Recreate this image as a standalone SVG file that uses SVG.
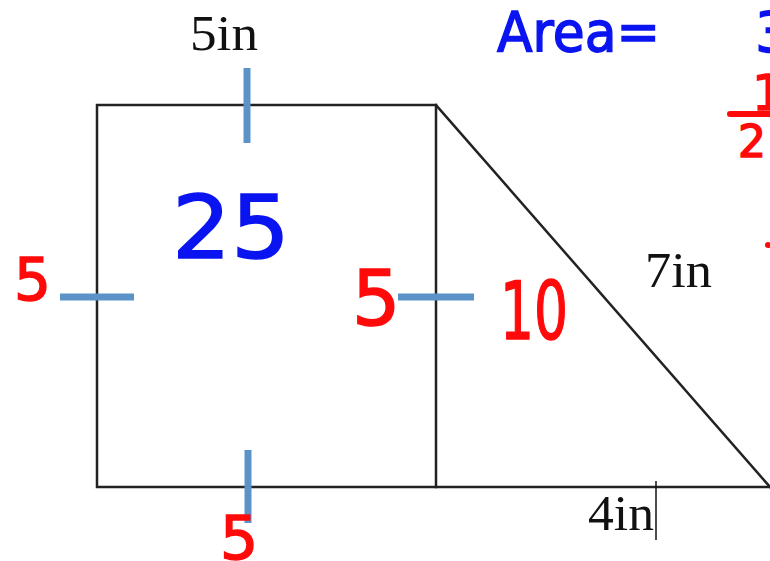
<svg xmlns="http://www.w3.org/2000/svg" width="770" height="561" viewBox="0 0 770 561">
<style>
.edge{stroke:#222;stroke-width:2.5;fill:none;stroke-linecap:square}
.tick{stroke:#5b93c9;stroke-width:7;fill:none}
.lbl{font-family:"Liberation Serif",serif;font-size:51px;fill:#111}
.hb{font-family:"DejaVu Sans","Liberation Sans",sans-serif;fill:#0a14f0;stroke:#0a14f0;stroke-width:1.5}
.hr{font-family:"DejaVu Sans","Liberation Sans",sans-serif;fill:#ff0a0a;stroke:#ff0a0a;stroke-width:1.5}
</style>
<rect width="770" height="561" fill="#fff"/>
<g id="shape">
<path class="edge" d="M97 105 H436 V487 H97 Z"/>
<path class="edge" d="M436 105 L770 487"/>
<path class="edge" d="M436 487 H770"/>
</g>
<g id="ticks">
<line class="tick" x1="247" y1="68" x2="247" y2="143"/>
<line class="tick" x1="60" y1="297" x2="134" y2="297"/>
<line class="tick" x1="398" y1="297" x2="474" y2="297"/>
<line class="tick" x1="248" y1="450" x2="248" y2="523"/>
</g>
<g id="labels">
<text class="lbl" x="190" y="50" textLength="68" lengthAdjust="spacingAndGlyphs">5in</text>
<text class="lbl" x="645" y="287" textLength="67" lengthAdjust="spacingAndGlyphs">7in</text>
<text class="lbl" x="588" y="530" textLength="66" lengthAdjust="spacingAndGlyphs">4in</text>
<line x1="656" y1="481" x2="656" y2="540" stroke="#111" stroke-width="1.5"/>
</g>
<g id="annotations">
<text class="hb" x="497" y="51" font-size="56" textLength="163" lengthAdjust="spacingAndGlyphs">Area=</text>
<text class="hb" x="755" y="51" font-size="56">3</text>
<text class="hr" x="752" y="110" font-size="50">1</text>
<line x1="730" y1="114" x2="770" y2="114" stroke="#ff0a0a" stroke-width="6" stroke-linecap="round"/>
<text class="hr" x="738" y="157" font-size="44">2</text>
<text class="hr" x="14" y="300" font-size="58">5</text>
<text class="hb" x="172" y="258" font-size="88" textLength="118" lengthAdjust="spacingAndGlyphs">25</text>
<text class="hr" x="352" y="325" font-size="76">5</text>
<text class="hr" x="500" y="339" font-size="80" textLength="68" lengthAdjust="spacingAndGlyphs">10</text>
<text class="hr" x="220" y="559" font-size="60">5</text>
<circle cx="768" cy="245" r="3" fill="#ff0a0a"/>
</g>
</svg>
